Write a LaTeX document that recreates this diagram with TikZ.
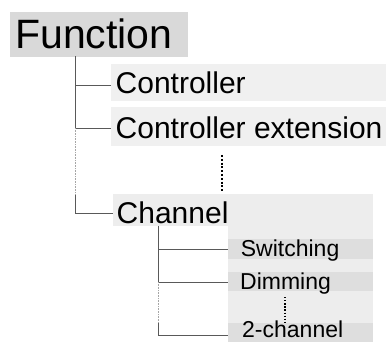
\documentclass[tikz,border=0pt]{standalone}
\usepackage{fontspec}
\setmainfont{Liberation Sans}

\begin{document}
\begin{tikzpicture}[x=1pt, y=-1pt,
    box/.style={fill=#1, inner sep=0pt, anchor=north west},
    txt/.style={inner sep=0pt, anchor=base west, font=\fontsize{#1}{#1}\selectfont},
    branch/.style={draw=black!65, line width=0.8pt},
    gap/.style={draw=black!35, line width=0.6pt, densely dotted},
    vdots/.style={line width=#1, dash pattern=on #1 off 1.8pt}]
    \useasboundingbox (0,0) rectangle (386,342);

    \node[box=black!15, minimum width=177.5, minimum height=45] (fnbox) at (10,11.5) {};
    \node[box=black!6, minimum width=275, minimum height=37.5] (ctlbox) at (111,63.5) {};
    \node[box=black!6, minimum width=275, minimum height=39] (extbox) at (111,107) {};
    \node[box=black!7, minimum width=260, minimum height=32] (chbox) at (113,194) {};
    \node[box=black!7, minimum width=145, minimum height=116] (chpanel) at (228,226) {};
    \node[box=black!13, minimum width=145, minimum height=20] (swbox) at (228,239) {};
    \node[box=black!13, minimum width=145, minimum height=19] (dimbox) at (228,272) {};
    \node[box=black!13, minimum width=145, minimum height=19] (twobox) at (228,323) {};

    \node[txt=41] (fn) at (15,48.3) {Function};
    \node[txt=30] (ctl) at (115.5,94) {Controller};
    \node[txt=30] (ext) at (115.5,138.3) {Controller extension};
    \node[txt=30] (ch) at (116.5,223.3) {Channel};
    \node[txt=23] (sw) at (240.7,256.7) {Switching};
    \node[txt=23] (dim) at (240,289) {Dimming};
    \node[txt=23] (two) at (242,337.3) {2-channel};

    \coordinate (fntrunk) at (75,56.5);
    \coordinate (fnB) at (75,128);
    \coordinate (fnC) at (75,195);
    \coordinate (chtrunk) at (158,226);
    \coordinate (chB) at (158,282);
    \coordinate (chC) at (158,323);

    \draw[branch] (fntrunk) |- ([yshift=-3pt]ctlbox.west);
    \draw[branch] (fntrunk) -- (fnB) -- (fnB -| extbox.west);
    \draw[gap] (fnB) -- (fnC);
    \draw[branch] (fnC) |- ([yshift=-3pt]chbox.west);
    \draw[branch] (chtrunk) |- (swbox.west);
    \draw[branch] (chtrunk) -- (chB) -- (chB -| dimbox.west);
    \draw[gap] (chB) -- (chC);
    \draw[branch] (chC) |- ([yshift=-2.5pt]twobox.west);

    \draw[vdots=2pt] (222,155) -- (222,191);
    \draw[vdots=1.3pt] (285,297) -- (285,322);
\end{tikzpicture}
\end{document}
